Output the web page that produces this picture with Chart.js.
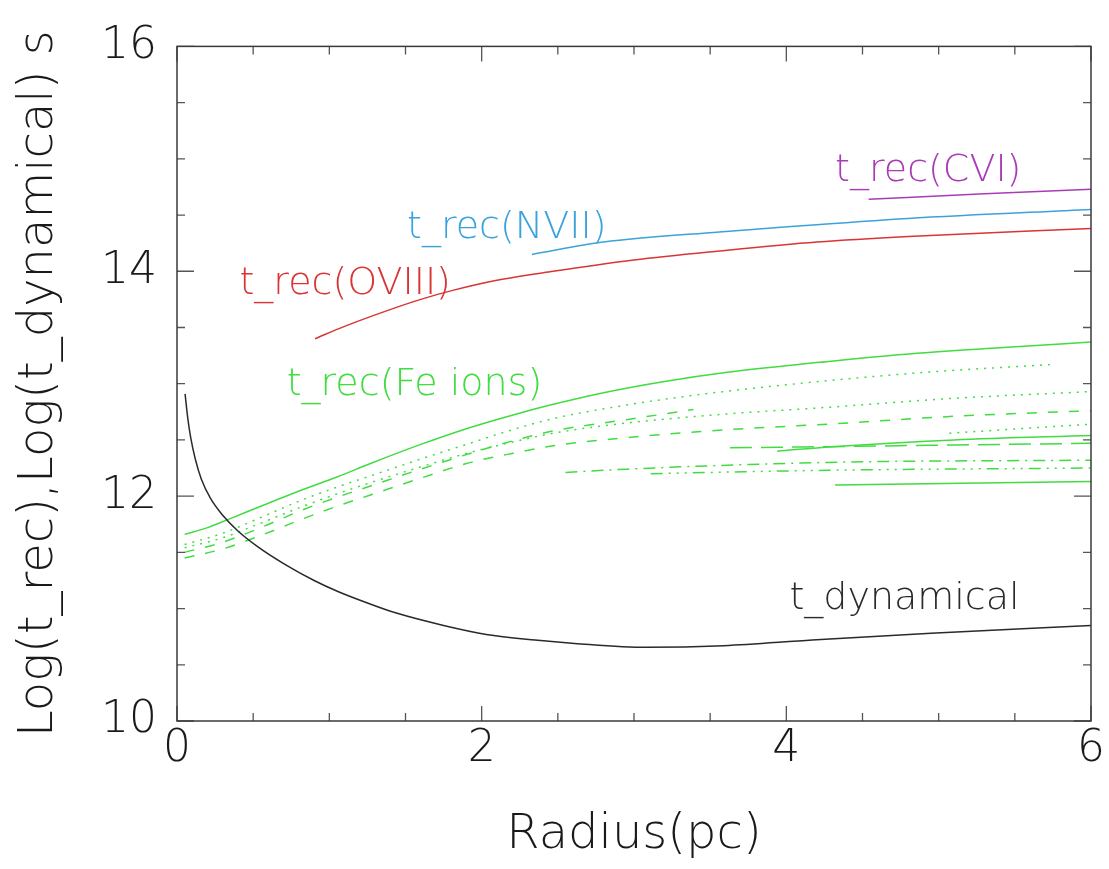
<!DOCTYPE html>
<html>
<head>
<meta charset="utf-8">
<script src="https://cdn.jsdelivr.net/npm/chart.js@4.4.0/dist/chart.umd.min.js"></script>
<style>
  html, body { margin: 0; padding: 0; background: #fff; }
  canvas { display: block; }
</style>
</head>
<body>
<canvas id="timescales" width="1109" height="869"></canvas>
<script>
// dynamical time vs radius
const dynR = [0.053, 0.07, 0.09, 0.12, 0.16, 0.22, 0.30, 0.40, 0.52, 0.70, 0.90, 1.06, 1.25, 1.44, 1.75, 2.03, 2.35, 2.61, 3.08, 3.59, 4.17, 4.95, 6.0];
const dynT = [12.91, 12.70, 12.52, 12.33, 12.15, 11.98, 11.83, 11.69, 11.56, 11.40, 11.25, 11.15, 11.05, 10.96, 10.85, 10.77, 10.72, 10.69, 10.655, 10.67, 10.72, 10.78, 10.85];

// recombination times, H-like ions
const oviiiR = [0.906, 1.1, 1.38, 1.6, 1.81, 2.1, 2.47, 3.0, 3.56, 4.2, 4.8, 6.0];
const oviiiT = [13.40, 13.51, 13.65, 13.75, 13.83, 13.92, 14.00, 14.10, 14.18, 14.26, 14.31, 14.38];
const nviiR = [2.33, 2.8, 3.56, 3.76, 4.8, 6.0];
const nviiT = [14.15, 14.26, 14.35, 14.37, 14.47, 14.55];
const cviR = [4.54, 5.3, 6.0];
const cviT = [14.64, 14.69, 14.73];

// recombination times, Fe ions
const fe1R = [0.05, 0.2, 0.35, 0.55, 0.81, 1.05, 1.27, 1.6, 1.9, 2.2, 2.45, 2.8, 3.2, 3.6, 4.22, 4.76, 5.4, 6.0];
const fe1T = [11.66, 11.72, 11.80, 11.91, 12.05, 12.17, 12.29, 12.46, 12.60, 12.72, 12.81, 12.92, 13.02, 13.10, 13.19, 13.26, 13.32, 13.37];
const fe2R = [0.05, 0.3, 0.55, 0.81, 1.05, 1.27, 1.6, 1.9, 2.2, 2.47, 2.95, 3.41, 4.07, 4.9, 5.73];
const fe2T = [11.57, 11.67, 11.81, 11.96, 12.08, 12.18, 12.33, 12.46, 12.59, 12.69, 12.81, 12.90, 13.00, 13.10, 13.17];
const fe3R = [0.05, 0.3, 0.55, 0.81, 1.05, 1.27, 1.6, 1.9, 2.2, 2.47, 2.95, 3.6, 4.27, 5.1, 6.0];
const fe3T = [11.54, 11.63, 11.76, 11.90, 12.02, 12.12, 12.26, 12.38, 12.48, 12.56, 12.65, 12.73, 12.79, 12.87, 12.93];
const fe4R = [0.05, 0.3, 0.55, 0.81, 1.05, 1.27, 1.6, 1.9, 2.2, 2.47, 2.95, 3.39];
const fe4T = [11.50, 11.59, 11.72, 11.87, 11.99, 12.09, 12.24, 12.37, 12.49, 12.58, 12.68, 12.77];
const fe5R = [0.05, 0.3, 0.55, 0.81, 1.05, 1.27, 1.6, 1.9, 2.2, 2.48, 2.95, 3.6, 4.27, 5.1, 6.0];
const fe5T = [11.45, 11.53, 11.65, 11.79, 11.91, 12.01, 12.16, 12.29, 12.38, 12.45, 12.52, 12.59, 12.64, 12.71, 12.76];
const fe6R = [5.07, 6.0];
const fe6T = [12.56, 12.64];
const fe7R = [3.63, 4.29, 5.1, 6.0];
const fe7T = [12.43, 12.44, 12.455, 12.47];
const fe8R = [3.94, 4.3, 5.1, 6.0];
const fe8T = [12.40, 12.44, 12.50, 12.54];
const fe9R = [2.55, 2.95, 4.27, 6.0];
const fe9T = [12.21, 12.24, 12.30, 12.32];
const fe10R = [3.11, 4.27, 6.0];
const fe10T = [12.20, 12.23, 12.25];
const fe11R = [4.32, 6.0];
const fe11T = [12.10, 12.13];

// curve labels: text, left edge (pc), baseline (log s)
const labelText = ['t_rec(CVI)', 't_rec(NVII)', 't_rec(OVIII)', 't_rec(Fe ions)', 't_dynamical'];
const labelR = [4.32, 1.51, 0.41, 0.72, 4.02];
const labelT = [14.805, 14.30, 13.80, 12.90, 11.0];

const xTicks = [0, 2, 4, 6];
const yTicks = [10, 12, 14, 16];

const PURPLE = '#a93cb5';
const BLUE = '#3aa3dc';
const RED = '#d93535';
const GREEN = '#40dc40';
const BLACK = '#2a2a2a';
const labelColors = [PURPLE, BLUE, RED, GREEN, BLACK];

const FONT = "'DejaVu Sans Light', 'DejaVu Sans', 'Liberation Sans', sans-serif";

const SOLID = [];
const DOT = [2, 6];
const DASH = [10, 11];
const DASH_DOT = [12, 6, 2, 6];
const DASH_3DOT = [12, 6, 2, 6, 2, 6, 2, 6];
const LONG_DASH = [22, 9];

function pts(xs, ys) {
    return xs.map((x, i) => ({ x, y: ys[i] }));
}

function curve(xs, ys, color, dash) {
    return {
        data: pts(xs, ys),
        showLine: true,
        borderColor: color,
        borderWidth: 1.5,
        borderDash: dash,
        pointRadius: 0,
        cubicInterpolationMode: 'monotone',
    };
}

const datasets = [
    curve(dynR, dynT, BLACK, SOLID),
    curve(oviiiR, oviiiT, RED, SOLID),
    curve(nviiR, nviiT, BLUE, SOLID),
    curve(cviR, cviT, PURPLE, SOLID),
    curve(fe1R, fe1T, GREEN, SOLID),
    curve(fe2R, fe2T, GREEN, DOT),
    curve(fe3R, fe3T, GREEN, DOT),
    curve(fe4R, fe4T, GREEN, DASH),
    curve(fe5R, fe5T, GREEN, DASH),
    curve(fe6R, fe6T, GREEN, DOT),
    curve(fe7R, fe7T, GREEN, LONG_DASH),
    curve(fe8R, fe8T, GREEN, SOLID),
    curve(fe9R, fe9T, GREEN, DASH_DOT),
    curve(fe10R, fe10T, GREEN, DASH_3DOT),
    curve(fe11R, fe11T, GREEN, SOLID),
];

// box frame with inward major/minor ticks on all four sides
const frameTicks = {
    id: 'frameTicks',
    afterDatasetsDraw(chart) {
        const { ctx, chartArea: a, scales: { x, y } } = chart;
        const minor = 0.5;
        ctx.save();
        ctx.strokeStyle = '#555';
        ctx.lineWidth = 1.3;
        ctx.beginPath();
        for (let v = x.min; v <= x.max + 1e-6; v += minor) {
            const px = x.getPixelForValue(v);
            const len = xTicks.includes(v) ? 15 : 8;
            ctx.moveTo(px, a.bottom); ctx.lineTo(px, a.bottom - len);
            ctx.moveTo(px, a.top); ctx.lineTo(px, a.top + len);
        }
        for (let v = y.min; v <= y.max + 1e-6; v += minor) {
            const py = y.getPixelForValue(v);
            const len = yTicks.includes(v) ? 17 : 8;
            ctx.moveTo(a.left, py); ctx.lineTo(a.left + len, py);
            ctx.moveTo(a.right, py); ctx.lineTo(a.right - len, py);
        }
        ctx.stroke();
        ctx.strokeStyle = '#3a3a3a';
        ctx.lineWidth = 1.5;
        ctx.strokeRect(a.left, a.top, a.right - a.left, a.bottom - a.top);
        ctx.restore();
    },
};

const curveLabels = {
    id: 'curveLabels',
    afterDatasetsDraw(chart) {
        const { ctx, scales: { x, y } } = chart;
        ctx.save();
        ctx.font = '200 38px ' + FONT;
        ctx.textAlign = 'left';
        ctx.textBaseline = 'alphabetic';
        labelText.forEach((t, i) => {
            ctx.fillStyle = labelColors[i];
            ctx.fillText(t, x.getPixelForValue(labelR[i]), y.getPixelForValue(labelT[i]));
        });
        ctx.restore();
    },
};

const tickFont = { family: FONT, size: 44, weight: '200' };
const titleFont = { family: FONT, size: 48, weight: '200' };

new Chart(document.getElementById('timescales'), {
    type: 'scatter',
    data: { datasets },
    options: {
        responsive: false,
        animation: false,
        layout: { padding: { left: 0, top: 43, right: 18, bottom: 0 } },
        plugins: {
            legend: { display: false },
            tooltip: { enabled: false },
        },
        scales: {
            x: {
                type: 'linear',
                min: 0,
                max: 6,
                afterBuildTicks: (s) => { s.ticks = xTicks.map((v) => ({ value: v })); },
                ticks: { font: tickFont, color: '#1a1a1a', padding: 2, maxRotation: 0 },
                grid: { display: false, drawTicks: false },
                border: { display: false },
                title: {
                    display: true,
                    text: 'Radius(pc)',
                    font: titleFont,
                    color: '#1a1a1a',
                    padding: { top: 0, bottom: 5 },
                },
                afterFit: (s) => { s.height = 148; },
            },
            y: {
                type: 'linear',
                min: 10,
                max: 16,
                afterBuildTicks: (s) => { s.ticks = yTicks.map((v) => ({ value: v })); },
                ticks: { font: tickFont, color: '#1a1a1a', padding: 20 },
                grid: { display: false, drawTicks: false },
                border: { display: false },
                title: {
                    display: true,
                    text: 'Log(t_rec),Log(t_dynamical) s',
                    font: titleFont,
                    color: '#1a1a1a',
                    padding: { top: 11, bottom: 0 },
                },
                afterFit: (s) => { s.width = 177; },
            },
        },
    },
    plugins: [frameTicks, curveLabels],
});
</script>
</body>
</html>
